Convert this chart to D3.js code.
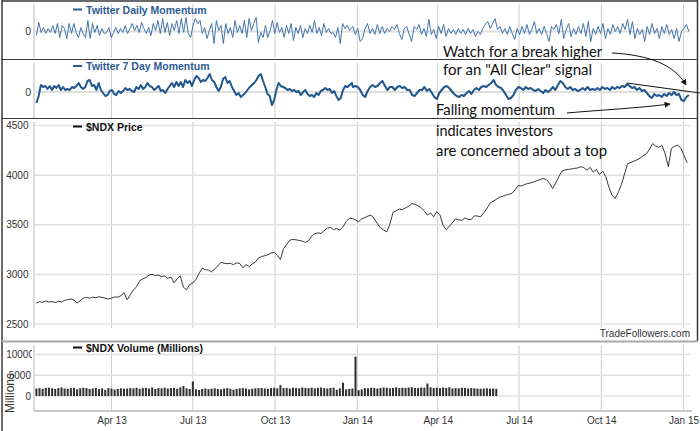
<!DOCTYPE html>
<meta charset="utf-8">
<style>
body { margin: 0; background: #fff; }
svg { display: block; font-family: Arial, "Liberation Sans", sans-serif; }
.note { font-family: Lato, "Open Sans", sans-serif; font-size: 16px; fill: #111; }
.legend { font-size: 10.5px; font-weight: bold; }
</style>
<script src="https://d3js.org/d3.v7.min.js"></script>
<div id="chart"></div>
<script>
// ---- data ----
var quarterTicks = ["2013-04-01", "2013-07-01", "2013-10-01", "2014-01-01",
                    "2014-04-01", "2014-07-01", "2014-10-01", "2015-01-01"];

// Twitter daily momentum (arbitrary units, 0 = neutral)
var daily2013 = [-4, 9, -1, 4, -2, 3, -1, 6, -2, 8, -6, 6, 3, -7, 8, -2, 8, -1, -6, 4, -2, -6, 11, -7, 8, -1, 6, -4, 3, -2,
  -1, 4, -6, -1, 4, -2, 3, -1, 6, -2, 3, 8, 1, 6, -1, 9, 3, -2, 4, -4, 8, 1, 11, -2, 13, -1, 9, -4, 8, 1,
  11, -2, 13, -1, 14, -2, -6, 6, 13, 8, 11, -2, 4, -7, 1, 8, -12, 11, 1, 6, -12, 8, -2, 4, -6, 11, -1, 6, -2, 11,
  -6, 13, 1, 8, 14, -11, -1, -6, 6, -6, 1, 11, -2, 9, -1, 4, -6, 6, -2, 8, -9, 4, -2, 6, -6, 3, -2, 6, -1, 11,
  -2, 4, -4, 8, -1, 3, -2, -1, -6, 4, -12, 8, 3, 6, 1, 4];
var daily2014 = [5, -3, 3, -10, -7, 3, 8, -2, 3, -3, 7, -2, 5, -2, 3, 0, 5, 2, 7, -2, -8, 3, 5, -3, -10, 5, 2, 7, -3, 3,
  -5, 12, -3, 2, -7, 5, -2, 7, -5, 3, -2, 2, -3, 3, -2, 2, -3, 3, -2, 2, -5, 0, -3, 3, 7, 10, 3, 8, 13, 2,
  5, -2, 3, -3, 5, -2, -8, 3, -3, 5, -2, 7, -3, 2, 10, -2, 3, -3, 5, -2, -10, 5, 2, 7, -2, 12, -7, 2, 8, -5,
  3, -3, 5, -2, 8, -5, 10, -10, 3, -3, 5, -2, 8, -7, 3, -3, 7, 0, 5, -2, 8, 2, 12, -3, 10, -7, 3, -3, 2, -10,
  5, -3, 8, -2, 3, -7, 5, -2, 7, -3, 2, -7, 3, -10, 0, 3, 7, 0];

// Twitter 7 day momentum
var weekly2013 = [-11, -4, 7, 5, 6, 3, 6, 2, 6, 4, 7, 2, 5, 2, 3, 2, 5, 4, 6, 9, 5, 3, 5, 11, 12, 6, 7, 2, 9, 2,
  -1, -4, -3, 1, 2, -2, -3, 1, -1, 1, 4, 2, 3, 1, 0, 5, 3, 7, 3, 5, 9, 6, 5, 2, 4, 6, 1, 2, -1, 3,
  6, 9, 5, 10, 6, 10, 5, 12, 9, 11, 6, 12, 16, 14, 10, 12, 11, 14, 18, 12, 10, 5, 1, 5, 13, 15, 9, 11, 5, 1,
  -3, -1, -5, -3, -1, 2, 5, 7, 9, 12, 16, 18, 11, 5, -2, -4, -13, -8, 2, 9, 6, 5, 4, 2, 3, 1, 2, 0, 1, -3,
  0, 2, -2, -4, -3, -5, -1, -3, 1, 2, 4, 2, 3, -1, 1, -4, -8, -6, 2, 6, 5, 7, 9];
var weekly2014 = [5, 6, 5, 2, -3, -5, 1, 5, 7, 5, 6, 9, 11, 6, 2, 5, 5, 2, 5, 6, 4, 5, 2, 2, -3, -4, -1, 2, 2, 5,
  1, 3, -1, -5, -7, -1, 2, 5, 6, 4, 1, -2, -4, -5, -3, -4, -1, 1, -2, 2, 4, 2, 5, 6, 5, 7, 9, 12, 7, 5,
  4, 1, -3, -7, -6, -3, 2, 5, 4, 2, 5, 3, 4, 2, 1, 3, 1, -1, 2, 0, 2, 5, 2, 7, 11, 9, 5, 3, 5, 2,
  3, 1, 2, 4, 2, 5, 2, 3, 2, 4, 2, 5, 3, 4, 2, 5, 3, 5, 4, 6, 5, 8, 6, 4, 5, 2, 4, 1, 2, -1,
  -4, -6, -2, -4, -3, -5, -2, -4, -1, -3, 0, -3, -2, -8, -9, -5, -3];

// $NDX price, one reading every 3.5 days from 7 Jan 2013
var priceStart = "2013-01-07";
var priceValues = [2711, 2725, 2718, 2732, 2720, 2726, 2716, 2728, 2722, 2738, 2745, 2752, 2740, 2712, 2735, 2762, 2768, 2760, 2770, 2765,
  2774, 2768, 2760, 2752, 2760, 2772, 2770, 2785, 2815, 2745, 2795, 2842, 2875, 2935, 2955, 2968, 2992, 3000, 2988, 2992,
  2978, 2984, 2960, 2972, 2915, 2955, 2985, 2870, 2845, 2898, 2912, 2950, 3010, 3062, 3048, 3042, 3026, 3055, 3085, 3122,
  3112, 3108, 3112, 3098, 3116, 3110, 3066, 3100, 3078, 3105, 3125, 3165, 3180, 3188, 3198, 3215, 3222, 3190, 3150, 3260,
  3300, 3345, 3352, 3348, 3342, 3335, 3322, 3340, 3385, 3410, 3418, 3412, 3442, 3466, 3472, 3452, 3462, 3448, 3480, 3530,
  3565, 3562, 3548, 3530, 3560, 3572, 3588, 3596, 3560, 3512, 3468, 3448, 3428, 3505, 3625, 3640, 3658, 3652, 3670, 3686,
  3712, 3708, 3690, 3672, 3638, 3598, 3618, 3580, 3632, 3600, 3495, 3450, 3485, 3520, 3560, 3548, 3545, 3568, 3555, 3552,
  3590, 3588, 3580, 3618, 3662, 3718, 3738, 3755, 3776, 3786, 3798, 3806, 3816, 3850, 3895, 3890, 3905, 3915, 3922, 3932,
  3945, 3955, 3966, 3955, 3920, 3865, 3920, 3985, 4040, 4052, 4058, 4062, 4068, 4072, 4085, 4075, 4050, 4078, 4030, 4058,
  4005, 4040, 3985, 3880, 3800, 3765, 3825, 3905, 4010, 4115, 4128, 4140, 4155, 4172, 4195, 4215, 4262, 4318, 4292, 4280,
  4298, 4215, 4085, 4270, 4290, 4302, 4272, 4200, 4125];

// $NDX volume (millions), same 3.5 day steps, stops mid 2014
var volumeValues = [1800, 1900, 1750, 1950, 2000, 1850, 1700, 1900, 2050, 1800,
  1750, 1900, 1950, 1600, 1850, 2000, 1900, 1700, 1800, 1950,
  1650, 1850, 1500, 1900, 1800, 1550, 1700, 1850, 1750, 1800,
  1900, 1850, 2000, 1750, 1900, 1950, 1800, 2050, 1700, 1900,
  1850, 2000, 1800, 1900, 1950, 1750, 2100, 2400, 1850, 1700,
  3500, 1600, 1450, 1700, 1800, 1650, 1750, 1850, 1700, 1600,
  1800, 1900, 1750, 1500, 1700, 1850, 1900, 1800, 1600, 1750,
  1850, 1900, 1950, 1800, 1750, 1900, 2000, 1850, 2600, 1900,
  1950, 1800, 2000, 1900, 1850, 2050, 1950, 1900, 2000, 1850,
  1950, 2050, 1900, 1800, 1950, 2000, 1500, 1850, 3200, 1600,
  1700, 1800, 9500, 1400, 1600, 1900, 1850, 2000, 1950, 1800,
  1900, 2050, 2000, 1850, 1950, 2100, 1900, 2000, 1950, 2050,
  2100, 1950, 1900, 2050, 2000, 3000, 2100, 1950, 2000, 1900,
  2050, 1950, 2100, 1800, 1900, 1850, 2000, 1950, 1800, 1900,
  1850, 1800, 1750, 1800, 1850, 1750, 1800, 1700];

var priceTicks = [2500, 3000, 3500, 4000, 4500];
var volumeTicks = [0, 5000, 10000];

// ---- chart ----
var parse = d3.timeParse("%Y-%m-%d");
var tickDates = quarterTicks.map(parse);
var left = 34, right = 690;
var plain = d3.format("d");

function spread(a, b, n) {
  var t0 = parse(a).getTime(), t1 = parse(b).getTime();
  return d3.range(n).map(function(i) { return new Date(t0 + (t1 - t0) * i / (n - 1)); });
}
function zip(dates, vals) { return vals.map(function(v, i) { return {date: dates[i], v: v}; }); }

var dailyData = zip(spread("2013-01-07", "2013-12-26", daily2013.length), daily2013)
  .concat(zip(spread("2013-12-27", "2015-01-07", daily2014.length), daily2014));
var weeklyData = zip(spread("2013-01-07", "2013-12-26", weekly2013.length), weekly2013)
  .concat(zip(spread("2013-12-27", "2015-01-07", weekly2014.length), weekly2014));
var p0 = parse(priceStart);
var priceData = priceValues.map(function(v, i) { return {date: d3.timeHour.offset(p0, i * 84), v: v}; });
var volumeData = volumeValues.map(function(v, i) { return {date: d3.timeHour.offset(p0, i * 84), v: v}; });

var svg = d3.select("#chart").append("svg").attr("width", 700).attr("height", 431);
svg.append("rect").attr("width", 700).attr("height", 431).attr("fill", "#fff");

var x = d3.scaleTime()
  .domain([new Date(2013, 0, 4), new Date(2015, 0, 8)])
  .range([33.75, 689.75]);

var yDaily = d3.scaleLinear().domain([-28, 28]).range([59.5, 3.5]);
var yWeekly = d3.scaleLinear().domain([-28, 28]).range([120, 64]);
var yPrice = d3.scaleLinear().domain([2500, 4500]).range([324, 125.5]);
var yVol = d3.scaleLinear().domain([0, 10000]).range([396, 354.5]);

function vGrid(y0, y1) {
  svg.append("g").selectAll("line").data(tickDates).join("line")
    .attr("x1", function(d) { return x(d); }).attr("x2", function(d) { return x(d); })
    .attr("y1", y0).attr("y2", y1)
    .attr("stroke", "#cfcfcf");
  svg.append("line").attr("x1", left).attr("x2", left).attr("y1", y0).attr("y2", y1)
    .attr("stroke", "#b8b8b8");
}
function hGrid(scale, vals, w, col) {
  svg.append("g").selectAll("line").data(vals).join("line")
    .attr("x1", left).attr("x2", right)
    .attr("y1", function(d) { return scale(d); }).attr("y2", function(d) { return scale(d); })
    .attr("stroke", col).attr("stroke-width", w);
}
function yLabels(parent, scale, vals, xEnd, size) {
  var g = parent.append("g")
    .attr("transform", "translate(" + xEnd + ",0)")
    .call(d3.axisLeft(scale).tickValues(vals).tickFormat(plain).tickSize(0).tickPadding(0));
  g.select(".domain").remove();
  g.selectAll("text").attr("font-size", size).attr("font-family", "Arial, 'Liberation Sans', sans-serif").attr("fill", "#333");
  return g;
}
function legend(y, label, col) {
  svg.append("line").attr("x1", 73).attr("x2", 82).attr("y1", y).attr("y2", y)
    .attr("stroke", col).attr("stroke-width", 2);
  svg.append("text").attr("class", "legend").attr("x", 86).attr("y", y + 4)
    .attr("fill", col).text(label);
}

// panel 1: daily momentum
vGrid(4, 58);
hGrid(yDaily, [0], 2, "#dedede");
yLabels(svg, yDaily, [0], 31, 10.5);
svg.append("path").datum(dailyData)
  .attr("fill", "none").attr("stroke", "#4475ab").attr("stroke-width", 1)
  .attr("d", d3.line().x(function(d) { return x(d.date); }).y(function(d) { return yDaily(d.v); }));
legend(9.5, "Twitter Daily Momentum", "#2d5a91");

// panel 2: 7 day momentum
vGrid(63, 118);
hGrid(yWeekly, [0], 2, "#dedede");
yLabels(svg, yWeekly, [0], 31, 10.5);
svg.append("path").datum(weeklyData)
  .attr("fill", "none").attr("stroke", "#22568f").attr("stroke-width", 2).attr("stroke-linejoin", "round")
  .attr("d", d3.line().x(function(d) { return x(d.date); }).y(function(d) { return yWeekly(d.v); }));
legend(66, "Twitter 7 Day Momentum", "#2d5a91");

// panel 3: price
vGrid(122, 328);
hGrid(yPrice, priceTicks, 1.5, "#e0e0e0");
yLabels(svg, yPrice, priceTicks, 28.5, 10);
svg.append("path").datum(priceData)
  .attr("fill", "none").attr("stroke", "#222").attr("stroke-width", 0.9)
  .attr("d", d3.line().x(function(d) { return x(d.date); }).y(function(d) { return yPrice(d.v); }));
legend(126.5, "$NDX Price", "#111");
svg.append("text").attr("x", 690).attr("y", 337).attr("text-anchor", "end")
  .attr("font-size", 10).attr("fill", "#333").text("TradeFollowers.com");

// panel 4: volume
vGrid(345, 411);
hGrid(yVol, volumeTicks, 1.5, "#e0e0e0");
svg.append("text").attr("transform", "translate(13.5,393) rotate(-90)")
  .attr("text-anchor", "middle").attr("font-size", 12).attr("fill", "#333").text("Millions");
svg.append("clipPath").attr("id", "lab").append("rect").attr("x", 0).attr("y", 340).attr("width", 32).attr("height", 80);
var volLab = svg.append("g").attr("clip-path", "url(#lab)");
yLabels(volLab, yVol, volumeTicks, 31, 10)
  .selectAll(".tick").filter(function(d) { return d === 10000; }).select("text").attr("x", 3);
svg.append("g").selectAll("rect").data(volumeData).join("rect")
  .attr("x", function(d) { return x(d.date) - 1; })
  .attr("y", function(d) { return yVol(d.v); })
  .attr("width", 2)
  .attr("height", function(d) { return yVol(0) - yVol(d.v); })
  .attr("fill", "#2e2e2e");
legend(347.5, "$NDX Volume (Millions)", "#111");
svg.append("line").attr("x1", left).attr("x2", 692).attr("y1", 411).attr("y2", 411)
  .attr("stroke", "#b8b8b8").attr("stroke-width", 1.5);

var xAxis = svg.append("g").attr("transform", "translate(0,411)")
  .call(d3.axisBottom(x).tickValues(tickDates).tickFormat(d3.timeFormat("%b %y")).tickSize(0).tickPadding(6));
xAxis.select(".domain").remove();
xAxis.selectAll("text").attr("font-size", 10).attr("font-family", "Arial, 'Liberation Sans', sans-serif").attr("fill", "#333");

// frame
var frame = "#3a3a3a";
svg.append("line").attr("x1", 2).attr("x2", 2).attr("y1", 0).attr("y2", 431).attr("stroke", frame).attr("stroke-width", 1.5);
svg.append("line").attr("x1", 2).attr("x2", 697.5).attr("y1", 1).attr("y2", 1).attr("stroke", frame).attr("stroke-width", 1.5);
svg.append("line").attr("x1", 697.5).attr("x2", 697.5).attr("y1", 0).attr("y2", 341).attr("stroke", frame).attr("stroke-width", 1.5);
svg.append("line").attr("x1", 2).attr("x2", 697.5).attr("y1", 59.5).attr("y2", 59.5).attr("stroke", frame).attr("stroke-width", 1.2);
svg.append("line").attr("x1", 2).attr("x2", 697.5).attr("y1", 118.5).attr("y2", 118.5).attr("stroke", frame).attr("stroke-width", 1.2);
svg.append("line").attr("x1", 2).attr("x2", 697.5).attr("y1", 341.5).attr("y2", 341.5).attr("stroke", "#a8a8a8").attr("stroke-width", 2);

// annotations
svg.append("defs").append("marker").attr("id", "head")
  .attr("viewBox", "0 0 10 10").attr("refX", 9).attr("refY", 5)
  .attr("markerWidth", 6).attr("markerHeight", 6).attr("orient", "auto")
  .append("path").attr("d", "M0,0L10,5L0,10z").attr("fill", "#111");

var notes = [
  {t: "Watch for a break higher", x: 443, y: 57, w: 159},
  {t: "for an \"All Clear\" signal", x: 443, y: 75, w: 149},
  {t: "Falling momentum", x: 436, y: 115, w: 119},
  {t: "indicates investors", x: 436, y: 136, w: 117},
  {t: "are concerned about a top", x: 436, y: 156, w: 171}
];
svg.append("g").selectAll("text").data(notes).join("text")
  .attr("class", "note")
  .attr("x", function(d) { return d.x; }).attr("y", function(d) { return d.y; })
  .attr("textLength", function(d) { return d.w; }).attr("lengthAdjust", "spacingAndGlyphs")
  .text(function(d) { return d.t; });

svg.append("path").attr("d", "M612,53 C648,55 674,64 686,85")
  .attr("fill", "none").attr("stroke", "#111").attr("stroke-width", 1).attr("marker-end", "url(#head)");
svg.append("path").attr("d", "M567,113 C600,110 640,108 670,104")
  .attr("fill", "none").attr("stroke", "#111").attr("stroke-width", 1).attr("marker-end", "url(#head)");
svg.append("line").attr("x1", 627).attr("y1", 83).attr("x2", 700).attr("y2", 93)
  .attr("stroke", "#111").attr("stroke-width", 1);
</script>
